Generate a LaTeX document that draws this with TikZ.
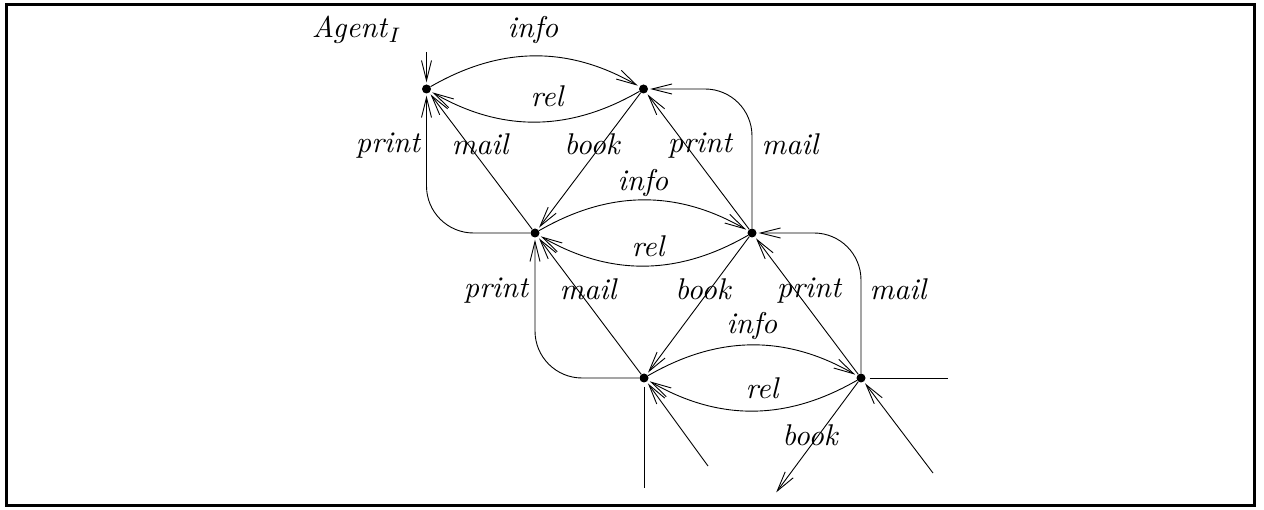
\RequirePackage{fix-cm}
\documentclass[tikz,border=0pt]{standalone}
\usepackage{graphicx}
\usetikzlibrary{arrows.meta}
\newcommand\lbltext[1]{\scalebox{3}{\fontsize{10}{12}\selectfont\itshape #1}}
\begin{document}
\begin{tikzpicture}[x=1pt,y=1pt,
  dot/.style={circle,fill,inner sep=0pt,minimum size=9pt},
  lbl/.style={inner sep=0pt},
  conn/.style={line width=0.9pt},
  arr/.style={conn,-{Straight Barb[length=20pt,width=10pt]},shorten >=2pt},
  plain/.style={conn,shorten <=4pt},
]
\useasboundingbox (0,0) rectangle (1264,-510);
\draw[line width=3.3pt] (6.7,-4.3) rectangle (1254.7,-505.7);

\node[dot] (A) at (426.5,-89) {};
\node[dot] (B) at (643.5,-89) {};
\node[dot] (C) at (535,-233) {};
\node[dot] (D) at (752,-233) {};
\node[dot] (E) at (644,-378) {};
\node[dot] (F) at (861,-378) {};

\coordinate (a0) at (426.5,-52);
\coordinate (e1) at (708,-466);
\coordinate (e2) at (644,-488);
\coordinate (f1) at (933,-473);
\coordinate (f2) at (948,-378);
\coordinate (f3) at (775,-494);

% row 1
\draw[arr] (a0) -- (A);
\draw[arr] (A) to[bend left=30] (B);
\draw[arr] (B) to[bend left=30] (A);
\draw[arr] (C) -- (A);
\draw[arr,rounded corners=47pt] (C) -| (A);
\draw[arr] (B) -- (C);
\draw[arr] (D) -- (B);
\draw[arr,rounded corners=47pt] (D) |- (B);
% row 2
\draw[arr] (C) to[bend left=30] (D);
\draw[arr] (D) to[bend left=30] (C);
\draw[arr] (E) -- (C);
\draw[arr,rounded corners=47pt] (E) -| (C);
\draw[arr] (D) -- (E);
\draw[arr] (F) -- (D);
\draw[arr,rounded corners=47pt] (F) |- (D);
% row 3
\draw[arr] (E) to[bend left=30] (F);
\draw[arr] (F) to[bend left=30] (E);
\draw[arr] (e1) -- (E);
\draw[plain] (E) -- (e2);
\draw[arr] (f1) -- (F);
\draw[plain] (F) -- (f2);
\draw[arr] (F) -- (f3);

% labels
\node[lbl] (lAgent) at (357,-30) {\lbltext{Agent\/$_I$}};
\node[lbl] (l1) at (533,-30) {\lbltext{info}};
\node[lbl] (l2) at (547,-96) {\lbltext{rel}};
\node[lbl] (l3) at (388,-146) {\lbltext{print}};
\node[lbl] (l4) at (480,-144) {\lbltext{mail}};
\node[lbl] (l5) at (592,-144) {\lbltext{book}};
\node[lbl] (l6) at (700,-146) {\lbltext{print}};
\node[lbl] (l7) at (790,-144) {\lbltext{mail}};
\node[lbl] (l8) at (643,-183) {\lbltext{info}};
\node[lbl] (l9) at (648,-246) {\lbltext{rel}};
\node[lbl] (l10) at (496,-291) {\lbltext{print}};
\node[lbl] (l11) at (588,-289) {\lbltext{mail}};
\node[lbl] (l12) at (703,-289) {\lbltext{book}};
\node[lbl] (l13) at (809,-291) {\lbltext{print}};
\node[lbl] (l14) at (898,-289) {\lbltext{mail}};
\node[lbl] (l15) at (752,-326) {\lbltext{info}};
\node[lbl] (l16) at (762,-388) {\lbltext{rel}};
\node[lbl] (l17) at (810,-435) {\lbltext{book}};
\end{tikzpicture}
\end{document}
